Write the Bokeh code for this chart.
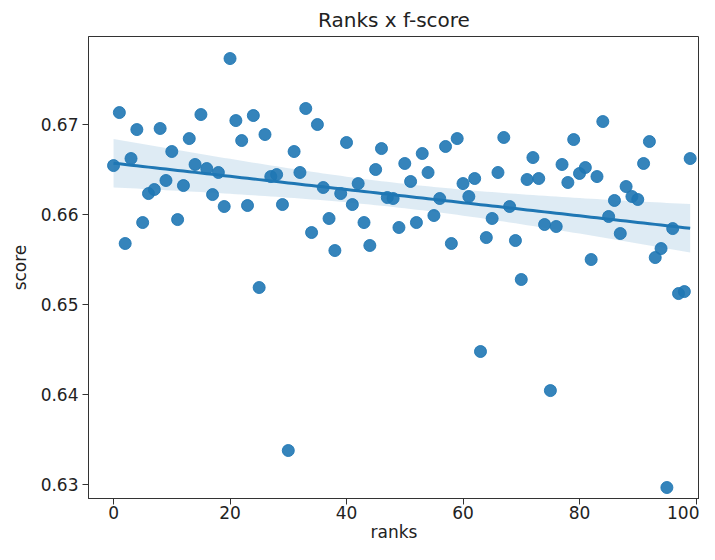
import numpy as np
from bokeh.plotting import figure
from bokeh.models import FixedTicker, Range1d
from bokeh.embed import file_html
from bokeh.resources import INLINE

ranks = list(range(100))
scores = [
    0.66544, 0.67133, 0.65678, 0.66622, 0.66944, 0.65911, 0.66233, 0.66278, 0.66956, 0.66378,
    0.66700, 0.65944, 0.66322, 0.66844, 0.66556, 0.67111, 0.66511, 0.66222, 0.66467, 0.66089,
    0.67733, 0.67044, 0.66822, 0.66100, 0.67100, 0.65189, 0.66889, 0.66422, 0.66444, 0.66111,
    0.63378, 0.66700, 0.66467, 0.67178, 0.65800, 0.67000, 0.66300, 0.65956, 0.65600, 0.66233,
    0.66800, 0.66111, 0.66344, 0.65911, 0.65656, 0.66500, 0.66733, 0.66189, 0.66178, 0.65856,
    0.66567, 0.66367, 0.65911, 0.66678, 0.66467, 0.65989, 0.66178, 0.66756, 0.65678, 0.66844,
    0.66344, 0.66200, 0.66400, 0.64478, 0.65744, 0.65956, 0.66467, 0.66856, 0.66089, 0.65711,
    0.65278, 0.66389, 0.66633, 0.66400, 0.65889, 0.64044, 0.65867, 0.66556, 0.66356, 0.66833,
    0.66456, 0.66522, 0.65500, 0.66422, 0.67033, 0.65978, 0.66156, 0.65789, 0.66311, 0.66200,
    0.66167, 0.66567, 0.66811, 0.65522, 0.65622, 0.62967, 0.65844, 0.65122, 0.65144, 0.66622,
]
x_ticks = [0, 20, 40, 60, 80, 100]
y_ticks = [0.63, 0.64, 0.65, 0.66, 0.67]
y_tick_labels = ["0.63", "0.64", "0.65", "0.66", "0.67"]

# Linear regression + 95% confidence band
x = np.array(ranks, dtype=float)
y = np.array(scores, dtype=float)
slope, intercept = np.polyfit(x, y, 1)
xg = np.linspace(x.min(), x.max(), 100)
yg = slope * xg + intercept
resid = y - (slope * x + intercept)
n = len(x)
s = np.sqrt(np.sum(resid ** 2) / (n - 2))
sxx = np.sum((x - x.mean()) ** 2)
se = s * np.sqrt(1.0 / n + (xg - x.mean()) ** 2 / sxx)
t_val = 1.984
lower = yg - t_val * se
upper = yg + t_val * se

blue = "#1f77b4"
font = "DejaVu Sans"

p = figure(width=699, height=544, output_backend="svg", toolbar_location=None,
           title="Ranks x f-score",
           x_range=Range1d(-4.3, 100.6), y_range=Range1d(0.62845, 0.67978),
           min_border_left=88, min_border_right=0, min_border_top=35, min_border_bottom=0)

p.varea(x=xg, y1=lower, y2=upper, fill_color=blue, fill_alpha=0.15)
p.scatter(x=ranks, y=scores, size=12, fill_color=blue, line_color=blue,
          fill_alpha=0.9, line_alpha=0.9)
p.line(x=xg, y=yg, line_color=blue, line_width=3)

p.title.align = "center"
p.title.text_font = font
p.title.text_font_size = "20px"
p.title.text_font_style = "normal"
p.title.text_color = "#222222"
p.title.offset = 0

p.xaxis.axis_label = "ranks"
p.yaxis.axis_label = "score"
p.xaxis.ticker = FixedTicker(ticks=x_ticks)
p.yaxis.ticker = FixedTicker(ticks=y_ticks)
p.yaxis.major_label_overrides = {t: l for t, l in zip(y_ticks, y_tick_labels)}

for ax in (p.xaxis, p.yaxis):
    ax.axis_label_text_font = font
    ax.axis_label_text_font_size = "17px"
    ax.axis_label_text_font_style = "normal"
    ax.axis_label_text_color = "#222222"
    ax.major_label_text_font = font
    ax.major_label_text_font_size = "17px"
    ax.major_label_text_color = "#222222"
    ax.minor_tick_line_color = None
    ax.major_tick_in = 0
    ax.major_tick_out = 6
    ax.major_tick_line_color = "#333333"
    ax.axis_line_color = "#333333"

p.xaxis.major_label_standoff = 1
p.xaxis.axis_label_standoff = 0
p.yaxis.major_label_standoff = 4
p.yaxis.axis_label_standoff = 8

p.xgrid.grid_line_color = None
p.ygrid.grid_line_color = None
p.outline_line_color = "#333333"
p.outline_line_alpha = 1.0
p.outline_line_width = 1
p.background_fill_color = "white"

open("out.html", "w").write(file_html(p, INLINE))
